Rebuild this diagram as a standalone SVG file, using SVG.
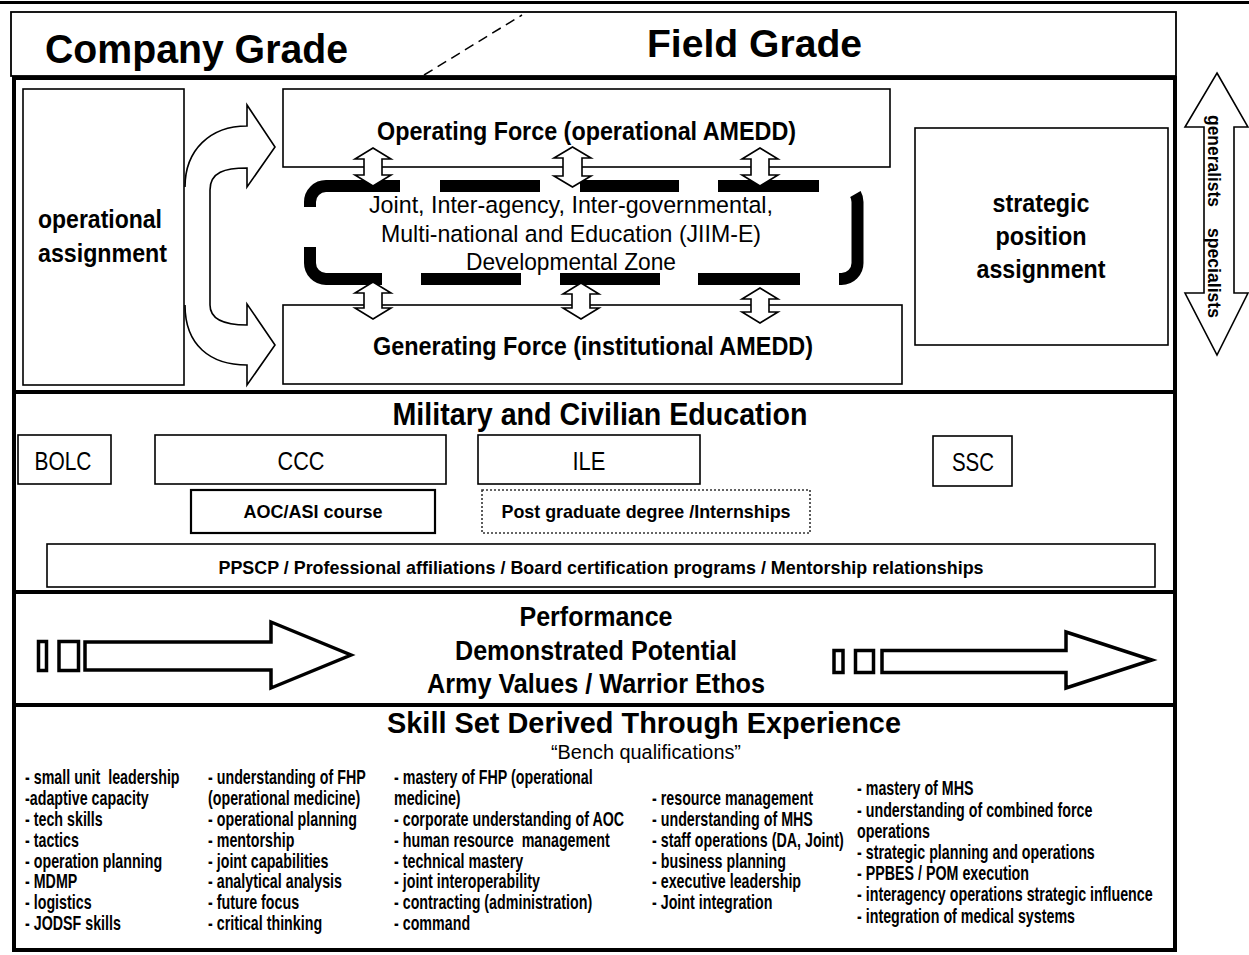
<svg xmlns="http://www.w3.org/2000/svg" width="1249" height="955" viewBox="0 0 1249 955">
<style>
text { font-family: "Liberation Sans", Arial, sans-serif; fill: #000; }
.b { font-weight: bold; }
.m { text-anchor: middle; }
.box { fill: #fff; stroke: #000; stroke-width: 1.6; }
.frame { fill: none; stroke: #000; stroke-width: 4; }
.dash { fill: none; stroke: #000; stroke-width: 12; stroke-linecap: butt; }
.harrow { fill: #fff; stroke: #000; stroke-width: 1.6; stroke-linejoin: miter; }
.blk { fill: #fff; stroke: #000; stroke-width: 3.5; stroke-linejoin: miter; }
.skill { font-size: 19.5px; font-weight: bold; }
</style>
<rect width="1249" height="955" fill="#fff"/>
<line x1="0" y1="2.5" x2="1249" y2="2.5" stroke="#000" stroke-width="3"/>

<g id="header">
  <rect x="11" y="12" width="1165" height="64" fill="#fff" stroke="#000" stroke-width="1.8"/>
  <path d="M424,75 L522,15" stroke="#000" stroke-width="1.5" stroke-dasharray="10,6" fill="none"/>
  <text x="45" y="63" class="b" font-size="40" textLength="303" lengthAdjust="spacingAndGlyphs">Company Grade</text>
  <text x="647" y="57" class="b" font-size="38" textLength="215" lengthAdjust="spacingAndGlyphs">Field Grade</text>
</g>

<g id="frame">
  <rect x="14" y="78" width="1161" height="872" class="frame"/>
  <line x1="14" y1="392" x2="1175" y2="392" stroke="#000" stroke-width="4"/>
  <line x1="14" y1="592" x2="1175" y2="592" stroke="#000" stroke-width="4"/>
  <line x1="14" y1="705" x2="1175" y2="705" stroke="#000" stroke-width="4"/>
</g>

<g id="operational-assignment">
  <rect x="23" y="89" width="161" height="296" class="box"/>
  <text x="38" y="228" class="b" font-size="25" textLength="124" lengthAdjust="spacingAndGlyphs">operational</text>
  <text x="38" y="262" class="b" font-size="25" textLength="129" lengthAdjust="spacingAndGlyphs">assignment</text>
</g>

<g id="operating-force">
  <rect x="283" y="89" width="607" height="78" class="box"/>
  <text x="377" y="140" class="b" font-size="25.5" textLength="419" lengthAdjust="spacingAndGlyphs">Operating Force (operational AMEDD)</text>
</g>

<g id="generating-force">
  <rect x="283" y="305" width="619" height="79" class="box"/>
  <text x="373" y="355" class="b" font-size="25.5" textLength="440" lengthAdjust="spacingAndGlyphs">Generating Force (institutional AMEDD)</text>
</g>

<g id="jiim-e-zone">
  <path class="dash" d="M400,186 H326 A16,16 0 0 0 310,202 V207"/>
  <path class="dash" d="M310,247 V263 A16,16 0 0 0 326,279 H382"/>
  <path class="dash" d="M440,186 H540 M580,186 H679 M718,186 H819"/>
  <path class="dash" d="M421,279 H521 M560,279 H660 M698,279 H800"/>
  <path class="dash" d="M855.4,194 A16,16 0 0 1 857.5,202 V263 A16,16 0 0 1 841.5,279 H839"/>
  <text x="571" y="213" class="m" font-size="24.5" textLength="404" lengthAdjust="spacingAndGlyphs">Joint, Inter-agency, Inter-governmental,</text>
  <text x="571" y="242" class="m" font-size="24.5" textLength="380" lengthAdjust="spacingAndGlyphs">Multi-national and Education (JIIM-E)</text>
  <text x="571" y="270" class="m" font-size="24.5" textLength="210" lengthAdjust="spacingAndGlyphs">Developmental Zone</text>
</g>

<g id="strategic-position">
  <rect x="915" y="128" width="253" height="217" class="box"/>
  <text x="1041" y="212" class="b m" font-size="25" textLength="97" lengthAdjust="spacingAndGlyphs">strategic</text>
  <text x="1041" y="245" class="b m" font-size="25" textLength="91" lengthAdjust="spacingAndGlyphs">position</text>
  <text x="1041" y="278" class="b m" font-size="25" textLength="129" lengthAdjust="spacingAndGlyphs">assignment</text>
</g>

<g id="generalist-specialist">
  <path class="harrow" d="M1217,73 L1248,127 L1234,127 L1234,293 L1248,293 L1217,355 L1185,293 L1204,293 L1204,127 L1185,127 Z"/>
  <text transform="translate(1208,115) rotate(90)" class="b" font-size="17.5" textLength="92" lengthAdjust="spacingAndGlyphs">generalists</text>
  <text transform="translate(1208,228) rotate(90)" class="b" font-size="17.5" textLength="90" lengthAdjust="spacingAndGlyphs">specialists</text>
</g>

<g id="connectors">
  <path class="harrow" d="M185,187 C185,150 210,126 247,126 L247,105 L275,147 L247,187 L247,168 C225,168 210,172 210,190 L210,305 C210,320 225,325 247,325 L247,304 L275,345 L247,385 L247,365 C210,365 185,345 185,305"/>
  <path class="harrow" d="M373,148 L391,159 L382,159 L382,175 L391,175 L373,186 L355,175 L364,175 L364,159 L355,159 Z"/>
  <path class="harrow" stroke-width="2.4" d="M572.5,147 L591,158 L582,158 L582,176 L591,176 L572.5,187 L554,176 L563,176 L563,158 L554,158 Z"/>
  <path class="harrow" d="M760,148 L778,159 L769,159 L769,175 L778,175 L760,186 L742,175 L751,175 L751,159 L742,159 Z"/>
  <path class="harrow" d="M373,282 L391,293 L382,293 L382,308 L391,308 L373,319 L355,308 L364,308 L364,293 L355,293 Z"/>
  <path class="harrow" d="M581,283 L599,294 L590,294 L590,308 L599,308 L581,319 L563,308 L572,308 L572,294 L563,294 Z"/>
  <path class="harrow" d="M760,288 L778,299 L769,299 L769,312 L778,312 L760,323 L742,312 L751,312 L751,299 L742,299 Z"/>
</g>

<g id="education">
  <text x="600" y="425" class="b m" font-size="31" textLength="415" lengthAdjust="spacingAndGlyphs">Military and Civilian Education</text>
  <g id="bolc"><rect x="18" y="435" width="93" height="49" class="box"/>
    <text x="63" y="470" class="m" font-size="25" textLength="57" lengthAdjust="spacingAndGlyphs">BOLC</text></g>
  <g id="ccc"><rect x="155" y="435" width="291" height="49" class="box"/>
    <text x="301" y="470" class="m" font-size="25" textLength="47" lengthAdjust="spacingAndGlyphs">CCC</text></g>
  <g id="ile"><rect x="478" y="435" width="222" height="49" class="box"/>
    <text x="589" y="470" class="m" font-size="25" textLength="33" lengthAdjust="spacingAndGlyphs">ILE</text></g>
  <g id="ssc"><rect x="933" y="436" width="79" height="50" class="box"/>
    <text x="973" y="471" class="m" font-size="25" textLength="42" lengthAdjust="spacingAndGlyphs">SSC</text></g>
  <g id="aoc"><rect x="191" y="490" width="244" height="43" fill="#fff" stroke="#000" stroke-width="2.2"/>
    <text x="313" y="518" class="b m" font-size="19" textLength="139" lengthAdjust="spacingAndGlyphs">AOC/ASI course</text></g>
  <g id="postgrad"><rect x="482" y="490" width="328" height="43" fill="#fff" stroke="#333" stroke-width="1.6" stroke-dasharray="2,2"/>
    <text x="646" y="518" class="b m" font-size="19" textLength="289" lengthAdjust="spacingAndGlyphs">Post graduate degree /Internships</text></g>
  <g id="ppscp"><rect x="47" y="544" width="1108" height="43" class="box"/>
    <text x="601" y="574" class="b m" font-size="19" textLength="765" lengthAdjust="spacingAndGlyphs">PPSCP / Professional affiliations / Board certification programs / Mentorship relationships</text></g>
</g>

<g id="performance">
  <rect x="38.5" y="641.5" width="8" height="29" class="blk"/>
  <rect x="59" y="641.5" width="19.5" height="29" class="blk"/>
  <path class="blk" d="M85,642 H271 V622 L351,655 L271,688 V670 H85 Z"/>
  <rect x="834" y="650.5" width="9" height="22" class="blk"/>
  <rect x="855.5" y="650.5" width="18" height="22" class="blk"/>
  <path class="blk" d="M882,650.5 H1066 V632 L1152,660 L1066,688 V672.5 H882 Z"/>
  <text x="596" y="626" class="b m" font-size="27" textLength="153" lengthAdjust="spacingAndGlyphs">Performance</text>
  <text x="596" y="660" class="b m" font-size="27" textLength="282" lengthAdjust="spacingAndGlyphs">Demonstrated Potential</text>
  <text x="596" y="693" class="b m" font-size="27" textLength="338" lengthAdjust="spacingAndGlyphs">Army Values / Warrior Ethos</text>
</g>

<g id="skills">
  <text x="644" y="733" class="b m" font-size="29.5" textLength="514" lengthAdjust="spacingAndGlyphs">Skill Set Derived Through Experience</text>
  <text x="646" y="759" class="m" font-size="20" textLength="190" lengthAdjust="spacingAndGlyphs">“Bench qualifications”</text>
  <g class="skill" transform="translate(25,0) scale(0.732,1)">
    <text x="0" y="784" xml:space="preserve">- small unit  leadership</text>
    <text x="0" y="804.9">-adaptive capacity</text>
    <text x="0" y="825.8">- tech skills</text>
    <text x="0" y="846.7">- tactics</text>
    <text x="0" y="867.6">- operation planning</text>
    <text x="0" y="888.5">- MDMP</text>
    <text x="0" y="909.4">- logistics</text>
    <text x="0" y="930.3">- JODSF skills</text>
  </g>
  <g class="skill" transform="translate(208,0) scale(0.732,1)">
    <text x="0" y="784">- understanding of FHP</text>
    <text x="0" y="804.9">(operational medicine)</text>
    <text x="0" y="825.8">- operational planning</text>
    <text x="0" y="846.7">- mentorship</text>
    <text x="0" y="867.6">- joint capabilities</text>
    <text x="0" y="888.5">- analytical analysis</text>
    <text x="0" y="909.4">- future focus</text>
    <text x="0" y="930.3">- critical thinking</text>
  </g>
  <g class="skill" transform="translate(394,0) scale(0.732,1)">
    <text x="0" y="784">- mastery of FHP (operational</text>
    <text x="0" y="804.9">medicine)</text>
    <text x="0" y="825.8">- corporate understanding of AOC</text>
    <text x="0" y="846.7" xml:space="preserve">- human resource  management</text>
    <text x="0" y="867.6">- technical mastery</text>
    <text x="0" y="888.5">- joint interoperability</text>
    <text x="0" y="909.4">- contracting (administration)</text>
    <text x="0" y="930.3">- command</text>
  </g>
  <g class="skill" transform="translate(652,0) scale(0.732,1)">
    <text x="0" y="804.9">- resource management</text>
    <text x="0" y="825.8">- understanding of MHS</text>
    <text x="0" y="846.7">- staff operations (DA, Joint)</text>
    <text x="0" y="867.6">- business planning</text>
    <text x="0" y="888.5">- executive leadership</text>
    <text x="0" y="909.4">- Joint integration</text>
  </g>
  <g class="skill" transform="translate(857,0) scale(0.732,1)">
    <text x="0" y="795.5">- mastery of MHS</text>
    <text x="0" y="816.7">- understanding of combined force</text>
    <text x="0" y="837.9">operations</text>
    <text x="0" y="859.1">- strategic planning and operations</text>
    <text x="0" y="880.3">- PPBES / POM execution</text>
    <text x="0" y="901.5">- interagency operations strategic influence</text>
    <text x="0" y="922.7">- integration of medical systems</text>
  </g>
</g>
</svg>
